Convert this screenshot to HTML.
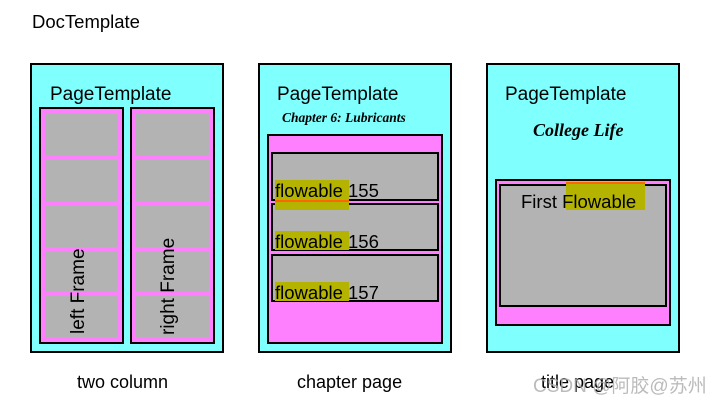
<!DOCTYPE html>
<html><head><meta charset="utf-8"><style>
html,body{margin:0;padding:0;background:#fff;}
svg{display:block;font-family:"Liberation Sans",Arial,sans-serif;}
</style></head><body>
<svg width="719" height="405" viewBox="0 0 719 405" xmlns="http://www.w3.org/2000/svg">
<text x="32" y="28" font-size="18.5">DocTemplate</text>

<!-- Left page -->
<rect x="31" y="64" width="192" height="288" fill="#80ffff" stroke="#000" stroke-width="2"/>
<text x="50" y="100" font-size="19">PageTemplate</text>
<g>
<rect x="40" y="108" width="83" height="235" fill="#ff80ff" stroke="#000" stroke-width="2"/>
<rect x="45" y="113" width="73" height="43" fill="#b3b3b3"/>
<rect x="45" y="160" width="73" height="42" fill="#b3b3b3"/>
<rect x="45" y="206" width="73" height="41" fill="#b3b3b3"/>
<rect x="45" y="251" width="73" height="41" fill="#b3b3b3"/>
<rect x="45" y="296" width="73" height="42" fill="#b3b3b3"/>
<rect x="131" y="108" width="83" height="235" fill="#ff80ff" stroke="#000" stroke-width="2"/>
<rect x="136" y="113" width="73" height="43" fill="#b3b3b3"/>
<rect x="136" y="160" width="73" height="42" fill="#b3b3b3"/>
<rect x="136" y="206" width="73" height="41" fill="#b3b3b3"/>
<rect x="136" y="251" width="73" height="41" fill="#b3b3b3"/>
<rect x="136" y="296" width="73" height="42" fill="#b3b3b3"/>
</g>
<text transform="translate(84,334) rotate(-90)" font-size="19">left Frame</text>
<text transform="translate(174,335) rotate(-90)" font-size="19">right Frame</text>
<text x="77" y="388" font-size="18">two column</text>

<!-- Middle page -->
<rect x="259" y="64" width="192" height="288" fill="#80ffff" stroke="#000" stroke-width="2"/>
<text x="277" y="100" font-size="19">PageTemplate</text>
<text x="282" y="122" font-size="13.5" font-family="Liberation Serif,serif" font-style="italic" font-weight="bold">Chapter 6: Lubricants</text>
<rect x="268" y="135" width="174" height="208" fill="#ff80ff" stroke="#000" stroke-width="2"/>
<rect x="272" y="153" width="166" height="47" fill="#b3b3b3" stroke="#000" stroke-width="2"/>
<rect x="272" y="204" width="166" height="46" fill="#b3b3b3" stroke="#000" stroke-width="2"/>
<rect x="272" y="255" width="166" height="46" fill="#b3b3b3" stroke="#000" stroke-width="2"/>
<rect x="275" y="180" width="74" height="30" fill="#b3b300"/>
<rect x="275" y="200" width="74" height="2" fill="#ff6600"/>
<rect x="275" y="231" width="74" height="19" fill="#b3b300"/>
<rect x="275" y="282" width="74" height="19" fill="#b3b300"/>
<text x="275" y="197" font-size="18.5">flowable 155</text>
<text x="275" y="248" font-size="18.5">flowable 156</text>
<text x="275" y="299" font-size="18.5">flowable 157</text>
<text x="297" y="388" font-size="18">chapter page</text>

<!-- Right page -->
<rect x="487" y="64" width="192" height="288" fill="#80ffff" stroke="#000" stroke-width="2"/>
<text x="505" y="100" font-size="19">PageTemplate</text>
<text x="533" y="136" font-size="18" font-family="Liberation Serif,serif" font-style="italic" font-weight="bold">College Life</text>
<rect x="496" y="180" width="174" height="145" fill="#ff80ff" stroke="#000" stroke-width="2"/>
<rect x="500" y="185" width="166" height="121" fill="#b3b3b3" stroke="#000" stroke-width="2"/>
<rect x="566" y="182" width="79" height="28" fill="#b3b300"/>
<rect x="566" y="182" width="79" height="2" fill="#ff6600"/>
<text x="521" y="208" font-size="18.5">First Flowable</text>
<text x="541" y="388" font-size="18">title page</text>
<text x="533" y="392" font-size="19" fill="#aaa" fill-opacity="0.8" font-family="Liberation Sans,'Noto Sans CJK SC',sans-serif">CSDN @阿胶@苏州</text>
</svg>
</body></html>
